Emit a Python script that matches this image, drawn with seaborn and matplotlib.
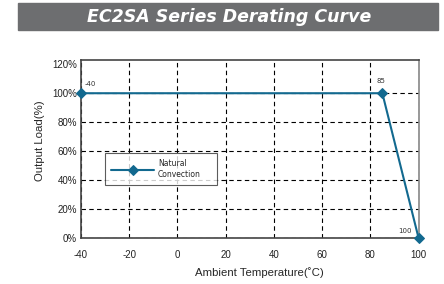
import matplotlib.pyplot as plt
from matplotlib.patches import Rectangle
import pandas as pd
import seaborn as sns

# Derating curve data
temperature = [-40, 85, 100]
load = [100, 100, 0]
point_labels = ["-40", "85", "100"]
series_name = "Natural\nConvection"

x_ticks = [-40, -20, 0, 20, 40, 60, 80, 100]
y_ticks = [0, 20, 40, 60, 80, 100, 120]

line_color = "#12698f"

sns.set_style("white")
plt.rcParams['font.family'] = ['Liberation Sans', 'DejaVu Sans']
plt.rcParams['axes.unicode_minus'] = False

df = pd.DataFrame({"Temperature": temperature, "Load": load,
                   "Condition": [series_name] * len(temperature)})

fig = plt.figure(figsize=(4.44, 2.84), dpi=100)
ax_w, ax_h = 337.5, 177.7
ax = fig.add_axes([81 / 444, 1 - 237.7 / 284, ax_w / 444, ax_h / 284])

# Title banner
fig.patches.append(Rectangle((18 / 444, 1 - 30 / 284), 420 / 444, 27 / 284,
                             transform=fig.transFigure, color="#6d6e70",
                             zorder=0))
fig.text(0.517, 1 - 16.5 / 284, "EC2SA Series Derating Curve", color="white",
         fontsize=12.5, fontweight="bold", style="italic",
         ha="center", va="center", family="DejaVu Sans")

sns.lineplot(data=df, x="Temperature", y="Load", hue="Condition",
             palette=[line_color], marker="D", markersize=5.5,
             markeredgecolor=line_color, linewidth=1.5, ax=ax,
             clip_on=False, zorder=5)

# Point annotations (offsets of label centre, in points)
offsets = [(6.5, 6.5), (-1.2, 8.6), (-10, 5)]
for t, l, s, off in zip(temperature, load, point_labels, offsets):
    ax.annotate(s, (t, l), xytext=off, textcoords="offset points",
                fontsize=5, color="#333333", ha="center", va="center",
                family="DejaVu Sans")

ax.set_xlim(-40, 100)
ax.set_ylim(0, 123)
ax.set_xticks(x_ticks)
ax.set_yticks(y_ticks)
ax.set_yticklabels([f"{v}%" for v in y_ticks])
ax.grid(True, color="black", linestyle=(0, (4, 3)), linewidth=0.8)
ax.get_ygridlines()[-1].set_visible(False)
ax.tick_params(axis="both", labelsize=7, length=0, colors="#222222")
ax.tick_params(axis="x", pad=9)
ax.tick_params(axis="y", pad=3)

for side in ["left", "bottom", "top"]:
    ax.spines[side].set_color("#444444")
    ax.spines[side].set_linewidth(1.2)
ax.spines["right"].set_color("#888888")
ax.spines["right"].set_linewidth(1.2)

ax.set_xlabel("Ambient Temperature(\u02daC)", fontsize=8.2, va="center")
ax.xaxis.set_label_coords((259.5 - 81) / ax_w, (237.7 - 273) / ax_h)
ax.set_ylabel("Output Load(%)", fontsize=8.2, va="center", ha="center")
ax.yaxis.set_label_coords((40 - 81) / ax_w, (237.7 - 140.5) / ax_h)

leg = ax.legend(loc="upper left",
                bbox_to_anchor=(24 / ax_w, (237.7 - 153) / ax_h, 112 / ax_w, 0),
                mode="expand", prop={"family": "DejaVu Sans", "size": 5.5},
                frameon=True, fancybox=False, edgecolor="#333333",
                borderpad=0.8, borderaxespad=0, handlelength=5.6,
                handletextpad=0.53, labelspacing=0)
leg.get_frame().set_linewidth(0.8)
leg.set_zorder(6)

fig.savefig("out.png", dpi=100)
